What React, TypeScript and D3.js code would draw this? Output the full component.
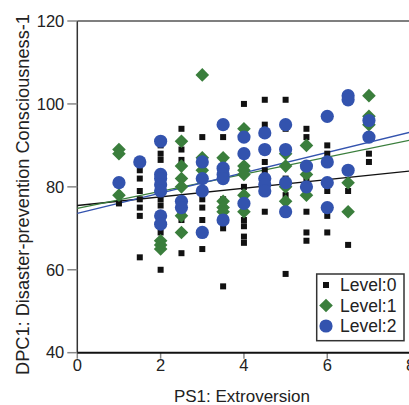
import React, { useRef, useEffect } from 'react'
import * as d3 from 'd3'

// level 0 (squares), level 1 (diamonds), level 2 (circles): [x, y]
const level0: [number, number][] = [
  [1, 76],
  [1.5, 84], [1.5, 82], [1.5, 79], [1.5, 77], [1.5, 75], [1.5, 73], [1.5, 63],
  [2, 90], [2, 88], [2, 86.5], [2, 77], [2, 75.5], [2, 69], [2, 60],
  [2.5, 94], [2.5, 89], [2.5, 86.5], [2.5, 72], [2.5, 64],
  [3, 92], [3, 77], [3, 75], [3, 72], [3, 65],
  [3.5, 92], [3.5, 77], [3.5, 70], [3.5, 56],
  [4, 100], [4, 80], [4, 72], [4, 70.5], [4, 68], [4, 66.5],
  [4.5, 101], [4.5, 95], [4.5, 86], [4.5, 84], [4.5, 74],
  [5, 101], [5, 94], [5, 82], [5, 78], [5, 59],
  [5.5, 94], [5.5, 92], [5.5, 82], [5.5, 74], [5.5, 69], [5.5, 67],
  [6, 90], [6, 88], [6, 79], [6, 73], [6, 69],
  [6.5, 79], [6.5, 66],
  [7, 88], [7, 86],
]

const level1: [number, number][] = [
  [1, 89], [1, 88], [1, 78],
  [2, 67], [2, 66], [2, 65],
  [2.5, 91], [2.5, 85], [2.5, 82], [2.5, 80], [2.5, 73], [2.5, 69],
  [3, 107], [3, 87], [3, 84],
  [3.5, 87], [3.5, 76.5], [3.5, 75], [3.5, 74],
  [4, 94], [4, 85], [4, 84], [4, 83], [4, 78], [4, 74],
  [5, 88], [5, 85], [5, 80], [5, 76.5],
  [5.5, 90], [5.5, 83], [5.5, 78],
  [6.5, 81], [6.5, 74],
  [7, 102], [7, 97], [7, 95],
]

const level2: [number, number][] = [
  [1, 81],
  [1.5, 86],
  [2, 91], [2, 83], [2, 82], [2, 80.5], [2, 79], [2, 73], [2, 71],
  [2.5, 76.5], [2.5, 75],
  [3, 86], [3, 82], [3, 79], [3, 69],
  [3.5, 95], [3.5, 84.5], [3.5, 83], [3.5, 82], [3.5, 72],
  [4, 92], [4, 88], [4, 76],
  [4.5, 93], [4.5, 89], [4.5, 82], [4.5, 80.5], [4.5, 79],
  [5, 95], [5, 89], [5, 81], [5, 74],
  [5.5, 85], [5.5, 80],
  [6, 97], [6, 86], [6, 81], [6, 75],
  [6.5, 102], [6.5, 101], [6.5, 84],
  [7, 96], [7, 92],
]

// fitted lines per level: intercept, slope
const fitIntercepts = [75.5, 74.8, 73.6]
const fitSlopes = [1.04, 2.06, 2.45]

const levelNames = ['Level:0', 'Level:1', 'Level:2']
const levelColors = ['#111111', '#3a7e3c', '#3353ae']

const xTicks = [0, 2, 4, 6, 8]
const yTicks = [40, 60, 80, 100, 120]

const Chart: React.FC = () => {
  const ref = useRef<SVGSVGElement>(null)

  useEffect(() => {
    const svg = d3.select(ref.current)
    svg.selectAll('*').remove()

    const width = 409
    const height = 405
    const left = 77.3
    const top = 21
    const plotW = 333.3
    const plotH = 331.7
    const font = 'Liberation Sans, Arial, Helvetica, sans-serif'

    const x = d3.scaleLinear().domain([0, 8]).range([left, left + plotW])
    const y = d3.scaleLinear().domain([40, 120]).range([top + plotH, top])

    svg.attr('width', width).attr('height', height)

    svg.append('rect')
      .attr('x', 0).attr('y', 0).attr('width', width).attr('height', height)
      .attr('fill', '#ffffff')

    // frame
    svg.append('line')
      .attr('x1', left).attr('x2', width).attr('y1', top).attr('y2', top)
      .attr('stroke', '#555').attr('stroke-width', 1.5)
    svg.append('line')
      .attr('x1', left).attr('x2', left).attr('y1', top).attr('y2', top + plotH)
      .attr('stroke', '#333').attr('stroke-width', 1.5)

    // y ticks
    const yg = svg.append('g')
    yg.selectAll('line').data(yTicks).join('line')
      .attr('x1', left - 10).attr('x2', left)
      .attr('y1', d => y(d)).attr('y2', d => y(d))
      .attr('stroke', '#888').attr('stroke-width', 1.5)
    yg.selectAll('text').data(yTicks).join('text')
      .attr('x', left - 13).attr('y', d => y(d))
      .attr('dy', '0.35em')
      .attr('text-anchor', 'end')
      .style('font', `16.5px ${font}`)
      .attr('fill', '#222')
      .text(d => d)

    // x ticks
    const xg = svg.append('g')
    xg.selectAll('line').data(xTicks).join('line')
      .attr('x1', d => x(d)).attr('x2', d => x(d))
      .attr('y1', top + plotH).attr('y2', top + plotH + 6)
      .attr('stroke', '#888').attr('stroke-width', 1.5)
    xg.selectAll('text').data(xTicks).join('text')
      .attr('x', d => x(d)).attr('y', top + plotH + 18)
      .attr('text-anchor', 'middle')
      .style('font', `16.5px ${font}`)
      .attr('fill', '#222')
      .text(d => d)

    // fit lines
    svg.append('g').selectAll('line').data(fitIntercepts).join('line')
      .attr('x1', x(0)).attr('x2', x(8))
      .attr('y1', (d, i) => y(d))
      .attr('y2', (d, i) => y(d + fitSlopes[i] * 8))
      .attr('stroke', (d, i) => levelColors[i])
      .attr('stroke-width', 1.3)

    // points
    svg.append('g').selectAll('rect').data(level0).join('rect')
      .attr('x', d => x(d[0]) - 3).attr('y', d => y(d[1]) - 3)
      .attr('width', 6).attr('height', 6)
      .attr('fill', levelColors[0])

    const diamond = 'M0,-6.8L6.8,0L0,6.8L-6.8,0Z'
    svg.append('g').selectAll('path').data(level1).join('path')
      .attr('d', diamond)
      .attr('transform', d => `translate(${x(d[0])},${y(d[1])})`)
      .attr('fill', levelColors[1])

    svg.append('g').selectAll('circle').data(level2).join('circle')
      .attr('cx', d => x(d[0])).attr('cy', d => y(d[1]))
      .attr('r', 6.6)
      .attr('fill', levelColors[2])

    // bottom axis line
    svg.append('line')
      .attr('x1', left).attr('x2', width).attr('y1', top + plotH).attr('y2', top + plotH)
      .attr('stroke', '#111').attr('stroke-width', 2)

    // axis titles
    svg.append('text')
      .attr('x', left + plotW / 2 - 2).attr('y', 402)
      .attr('text-anchor', 'middle')
      .style('font', `17px ${font}`)
      .attr('fill', '#222')
      .text('PS1: Extroversion')
    svg.append('text')
      .attr('transform', `translate(29,${194.5}) rotate(-90)`)
      .attr('text-anchor', 'middle')
      .style('font', `18.2px ${font}`)
      .attr('fill', '#222')
      .text('DPC1: Disaster-prevention Consciousness-1')

    // legend
    const lg = svg.append('g')
    lg.append('rect')
      .attr('x', 316.7).attr('y', 274).attr('width', 87.3).attr('height', 66.7)
      .attr('fill', '#fff').attr('stroke', '#333').attr('stroke-width', 1.5)
    const rows = lg.selectAll('g').data(levelNames).join('g')
      .attr('transform', (d, i) => `translate(326,${285 + i * 20.5})`)
    rows.filter((d, i) => i === 0).append('rect')
      .attr('x', -3).attr('y', -3).attr('width', 6).attr('height', 6)
      .attr('fill', levelColors[0])
    rows.filter((d, i) => i === 1).append('path')
      .attr('d', diamond).attr('fill', levelColors[1])
    rows.filter((d, i) => i === 2).append('circle')
      .attr('r', 6.6).attr('fill', levelColors[2])
    rows.append('text')
      .attr('x', 14).attr('dy', '0.36em')
      .style('font', `17.5px ${font}`)
      .attr('fill', '#222')
      .text(d => d)
  }, [])

  return <svg ref={ref} style={{ position: 'absolute', left: 0, top: 0, display: 'block' }}></svg>
}

const App: React.FC = () => {
  return (
    <div id="container">
      <Chart />
    </div>
  )
}

export default App
